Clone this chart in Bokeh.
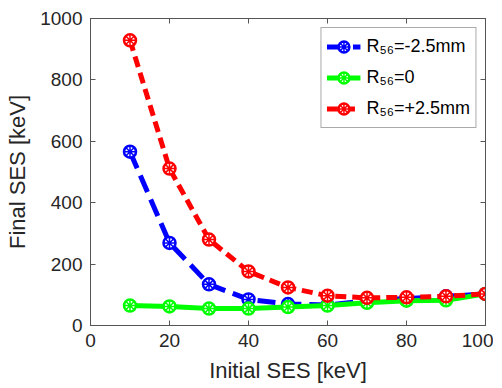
from bokeh.plotting import figure
from bokeh.models import Range1d, FixedTicker, LinearAxis, Legend, LegendItem
from bokeh.embed import file_html
from bokeh.resources import INLINE

x_vals = [10, 20, 30, 40, 50, 60, 70, 80, 90, 100]
neg_vals = [566, 269, 134, 85, 70, 67, 80, 88, 95, 103]
zero_vals = [65, 62, 55, 55, 60, 65, 74, 81, 82, 103]
pos_vals = [929, 511, 280, 176, 124, 97, 90, 92, 95, 103]
x_ticks = [0, 20, 40, 60, 80, 100]
y_ticks = [0, 200, 400, 600, 800, 1000]
labels = ["R\u2085\u2086=-2.5mm", "R\u2085\u2086=0", "R\u2085\u2086=+2.5mm"]
x_title = "Initial SES [keV]"
y_title = "Final SES [keV]"

FONT = "Liberation Sans"
AX = "#555555"
TXT = "#262626"

p = figure(frame_width=395, frame_height=307, output_backend="svg", toolbar_location=None,
           x_range=Range1d(0, 100), y_range=Range1d(0, 1000),
           min_border_left=90, min_border_right=8, min_border_top=18, min_border_bottom=0)
p.background_fill_color = "white"
p.border_fill_color = "white"
p.grid.visible = False
p.outline_line_color = AX
p.outline_line_width = 1

for ax, ticks in ((p.xaxis[0], x_ticks), (p.yaxis[0], y_ticks)):
    ax.ticker = FixedTicker(ticks=ticks)
    ax.major_tick_in = 5
    ax.major_tick_out = 0
    ax.minor_tick_line_color = None
    ax.axis_line_color = AX
    ax.major_tick_line_color = AX
    ax.major_label_text_font = FONT
    ax.major_label_text_font_size = "19px"
    ax.major_label_text_color = TXT
    ax.axis_label_text_font = FONT
    ax.axis_label_text_font_size = "22px"
    ax.axis_label_text_font_style = "normal"
    ax.axis_label_text_color = TXT
p.xaxis[0].axis_label = x_title
p.yaxis[0].axis_label = y_title
p.xaxis[0].major_label_standoff = 8
p.yaxis[0].major_label_standoff = 8
p.xaxis[0].axis_label_standoff = 8
p.yaxis[0].axis_label_standoff = 7

for loc, ticks in (("above", x_ticks), ("right", y_ticks)):
    a = LinearAxis(ticker=FixedTicker(ticks=ticks), major_tick_in=5, major_tick_out=0,
                   minor_tick_line_color=None, axis_line_color=AX, major_tick_line_color=AX,
                   major_label_text_font_size="0px", major_label_standoff=0,
                   major_label_text_color=None)
    p.add_layout(a, loc)

series = [
    (neg_vals, "#0000ff", "18 8"),
    (zero_vals, "#00ff00", "solid"),
    (pos_vals, "#ff0000", "11 6"),
]
items = []
for (vals, col, dash), lab in zip(series, labels):
    r1 = p.line(x_vals, vals, line_color=col, line_width=5, line_dash=dash)
    r2 = p.scatter(x_vals, vals, marker="circle", size=12, line_color=col, line_width=2.5,
                   fill_color="white")
    r3 = p.scatter(x_vals, vals, marker="asterisk", size=12, line_color=col, line_width=1.5)
    items.append(LegendItem(label=lab, renderers=[r1, r2, r3]))

legend = Legend(items=items, location="top_right")
legend.label_text_font = FONT
legend.label_text_font_size = "18px"
legend.label_text_color = "#000000"
legend.border_line_color = AX
legend.border_line_width = 1
legend.glyph_width = 34
legend.glyph_height = 27
legend.spacing = 4
legend.padding = 5
legend.margin = 9
legend.label_standoff = 6
p.add_layout(legend)

open("out.html", "w").write(file_html(p, INLINE))
